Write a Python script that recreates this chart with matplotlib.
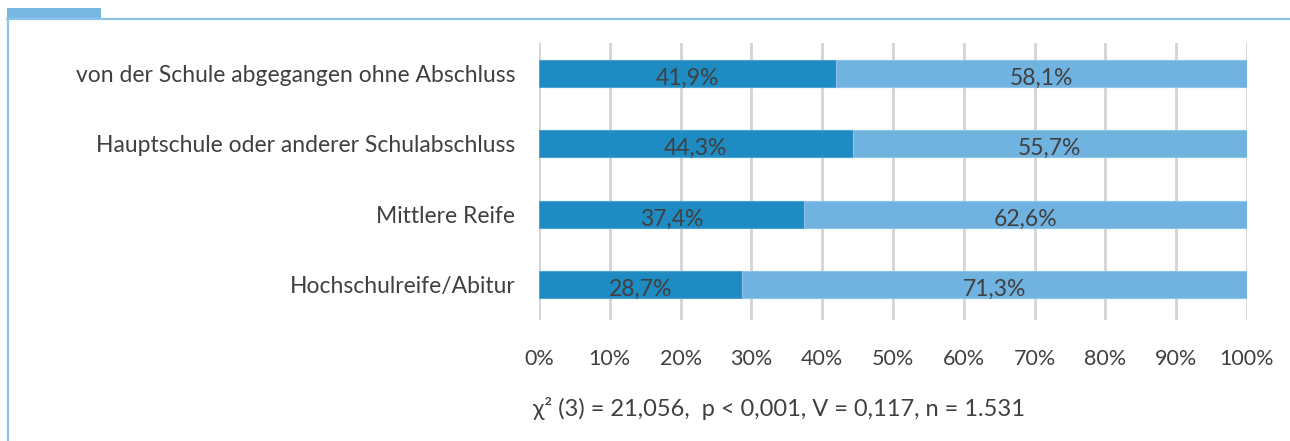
import matplotlib
matplotlib.use("Agg")
import matplotlib.pyplot as plt
from matplotlib.patches import Rectangle
from matplotlib.lines import Line2D

categories = ["von der Schule abgegangen ohne Abschluss",
              "Hauptschule oder anderer Schulabschluss",
              "Mittlere Reife",
              "Hochschulreife/Abitur"]
series_a = [41.9, 44.3, 37.4, 28.7]
series_b = [58.1, 55.7, 62.6, 71.3]
xticks = [0, 10, 20, 30, 40, 50, 60, 70, 80, 90, 100]
xtick_labels = [f"{t}%" for t in xticks]
stat_text = "χ² (3) = 21,056,  p < 0,001, V = 0,117, n = 1.531"

plt.rcParams['font.family'] = ['Lato', 'DejaVu Sans']
W, H = 1290, 441
fig = plt.figure(figsize=(W/100, H/100), dpi=100)

# axes placement (pixels)
x0, x1 = 539, 1247
y_top, y_bot = 43, 320
ax = fig.add_axes([x0/W, 1 - y_bot/H, (x1-x0)/W, (y_bot-y_top)/H])

c_dark = "#1E8BC3"
c_light = "#71B3E0"
txt = "#404040"
ypos = list(range(len(categories)))
h = 0.385
ax.barh(ypos, series_a, height=h, color=c_dark, edgecolor="#4aa3d3", linewidth=0.8, zorder=3)
ax.barh(ypos, series_b, left=series_a, height=h, color=c_light, edgecolor="#8cc3e8", linewidth=0.8, zorder=3)
for y, a, b in zip(ypos, series_a, series_b):
    ax.text(a/2, y + 0.065, f"{a:.1f}%".replace(".", ","), ha="center", va="center",
            fontsize=16.5, color=txt, zorder=4)
    ax.text(a + b/2, y + 0.065, f"{b:.1f}%".replace(".", ","), ha="center", va="center",
            fontsize=16.5, color=txt, zorder=4)

ax.set_xlim(0, 100)
ax.set_ylim(3.5, -0.433)
ax.set_xticks(xticks)
ax.set_xticklabels(xtick_labels, fontsize=15.5, color=txt)
ax.set_yticks(ypos)
ax.set_yticklabels(categories, fontsize=16.5, color=txt)
ax.tick_params(axis="both", length=0)
ax.tick_params(axis="x", pad=21)
ax.tick_params(axis="y", pad=17)
ax.grid(axis="x", color="#D4D4D4", linewidth=2, zorder=0)
for s in ax.spines.values():
    s.set_visible(False)

fig.text(533/W, 1 - 408/H, stat_text, ha="left", va="center", fontsize=17, color=txt)

# frame decorations
frame_c = "#8EC4EA"
fig.add_artist(Rectangle((7/W, 1 - 19/H), (101-7)/W, 11/H, transform=fig.transFigure,
                         facecolor="#78B8E3", edgecolor="none"))
fig.add_artist(Line2D([7/W, 1], [1 - 19/H, 1 - 19/H], transform=fig.transFigure,
                      color=frame_c, linewidth=1.6))
fig.add_artist(Line2D([7.5/W, 7.5/W], [0, 1 - 19/H], transform=fig.transFigure,
                      color=frame_c, linewidth=1.6))

fig.savefig("out.png", dpi=100)
